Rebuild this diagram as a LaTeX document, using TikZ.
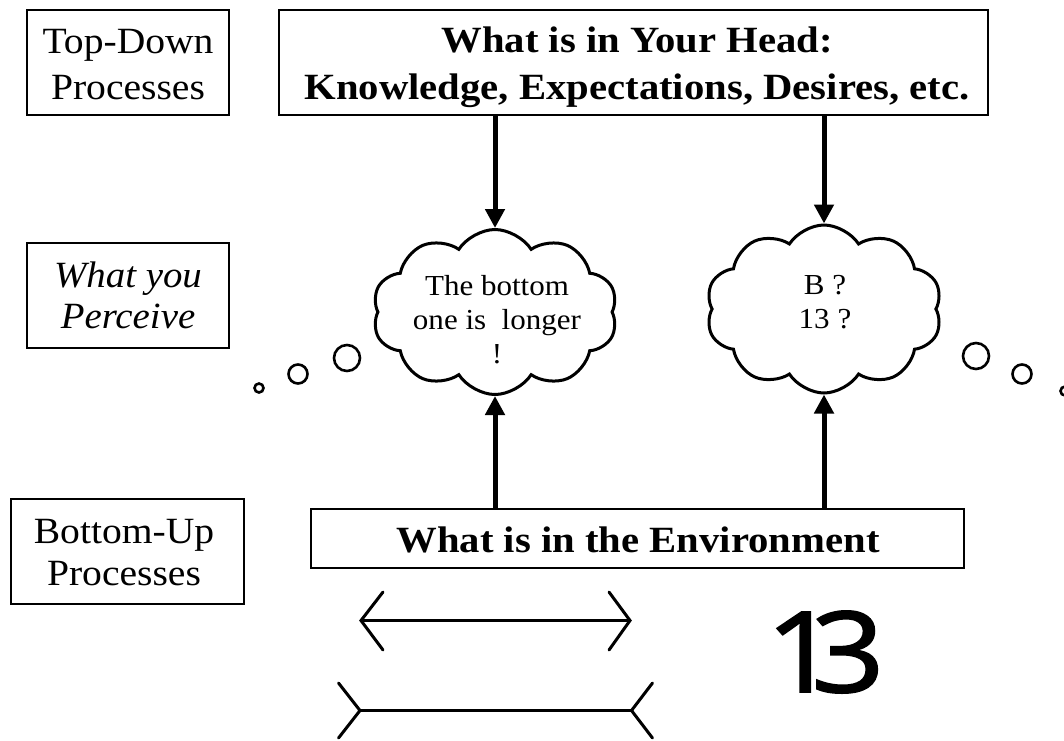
\documentclass[tikz,border=0pt]{standalone}
\usepackage{fontspec}
\setmainfont{Liberation Serif}[FakeStretch=1.07, BoldFeatures={FakeStretch=1.1}, ItalicFeatures={FakeStretch=1.05}]
\newfontfamily\numfont{Open Sans}[FakeStretch=1.15, FakeBold=1.6]
\usetikzlibrary{shapes.symbols,arrows.meta}
\tikzset{
  box/.style={draw, line width=1.2pt, inner sep=0pt},
  boxtext/.style={align=center, inner sep=0pt, font=\fontsize{37}{46.5}\selectfont},
  cloudbox/.style={cloud, draw, line width=3pt, cloud puffs=10, cloud puff arc=115, aspect=1.5, inner sep=0pt},
  cloudtext/.style={align=center, inner sep=0pt, font=\fontsize{29}{34}\selectfont},
  arr/.style={line width=5pt, -{Triangle[length=19pt,width=19pt]}},
  bubble/.style={circle, draw, line width=2.6pt, inner sep=0pt},
  fig/.style={line width=3pt, line cap=round}
}
\begin{document}
\begin{tikzpicture}[x=1pt,y=-1pt]
\useasboundingbox (0,0) rectangle (1064,740);
% boxes
\node[box, minimum width=202pt, minimum height=105pt] (tdbox) at (128,62.5) {};
\node[boxtext] (tdtext) at (128,67) {\strut Top-Down\\\strut Processes};
\node[box, minimum width=709pt, minimum height=105pt] (head) at (633.5,62.5) {};
\node[boxtext, font=\fontsize{37}{46.5}\selectfont\bfseries] (headtext) at (637,66.6) {\strut What is in Your Head:\\\strut Knowledge, Expectations, Desires, etc.};
\node[box, minimum width=202pt, minimum height=105pt] (pbox) at (128,295.5) {};
\node[boxtext, font=\fontsize{37}{41}\selectfont\itshape] (ptext) at (128,299.3) {\strut What you\\\strut Perceive};
\node[box, minimum width=233pt, minimum height=105pt] (bubox) at (127.5,551.5) {};
\node[boxtext, font=\fontsize{37}{42}\selectfont] (butext) at (124,555.6) {\strut Bottom-Up\\\strut Processes};
\node[box, minimum width=653pt, minimum height=59pt] (env) at (637.5,538.5) {};
\node[boxtext, font=\fontsize{37}{46}\selectfont\bfseries] (envtext) at (638,543) {\strut What is in the Environment};
% clouds
\node[cloudbox, minimum width=245pt, minimum height=165pt] (cloudA) at (495,312) {};
\node[cloudtext] (cloudAtext) at (497,322.2) {\strut The bottom\\\strut one is\ \ longer\\\strut !};
\node[cloudbox, minimum width=236pt, minimum height=168pt] (cloudB) at (824,309) {};
\node[cloudtext] (cloudBtext) at (825,304.5) {\strut B ?\\\strut 13 ?};
% arrows
\draw[arr] (head.south -| cloudA.north) -- (cloudA.north);
\draw[arr] (head.south -| cloudB.north) -- (cloudB.north);
\draw[arr] (env.north -| cloudA.south) -- (cloudA.south);
\draw[arr] (env.north -| cloudB.south) -- (cloudB.south);
% thought bubbles
\node[bubble, minimum size=9pt] (l1) at (259,388) {};
\node[bubble, minimum size=19pt] (l2) at (298,374) {};
\node[bubble, minimum size=26pt] (l3) at (347,358) {};
\node[bubble, minimum size=26pt] (r1) at (976,356) {};
\node[bubble, minimum size=19pt] (r2) at (1022,374) {};
\node[bubble, minimum size=9pt] (r3) at (1065,391) {};
% Mueller-Lyer figure
\coordinate (ta) at (361,620.5);
\coordinate (tb) at (630,620.5);
\draw[fig] (ta) -- (tb);
\draw[fig] (383,592) -- (ta) -- (383,650);
\draw[fig] (609,592) -- (tb) -- (609,650);
\coordinate (ba) at (360,710.5);
\coordinate (bb) at (631.5,710.5);
\draw[fig] (ba) -- (bb);
\draw[fig] (338.5,683) -- (ba) -- (338.5,738);
\draw[fig] (652.5,683) -- (bb) -- (652.5,738);
% ambiguous 13
\node[inner sep=0pt, font=\fontsize{112}{112}\numfont] (num) at (825,652) {1\kern-0.25em 3};
\end{tikzpicture}
\end{document}
